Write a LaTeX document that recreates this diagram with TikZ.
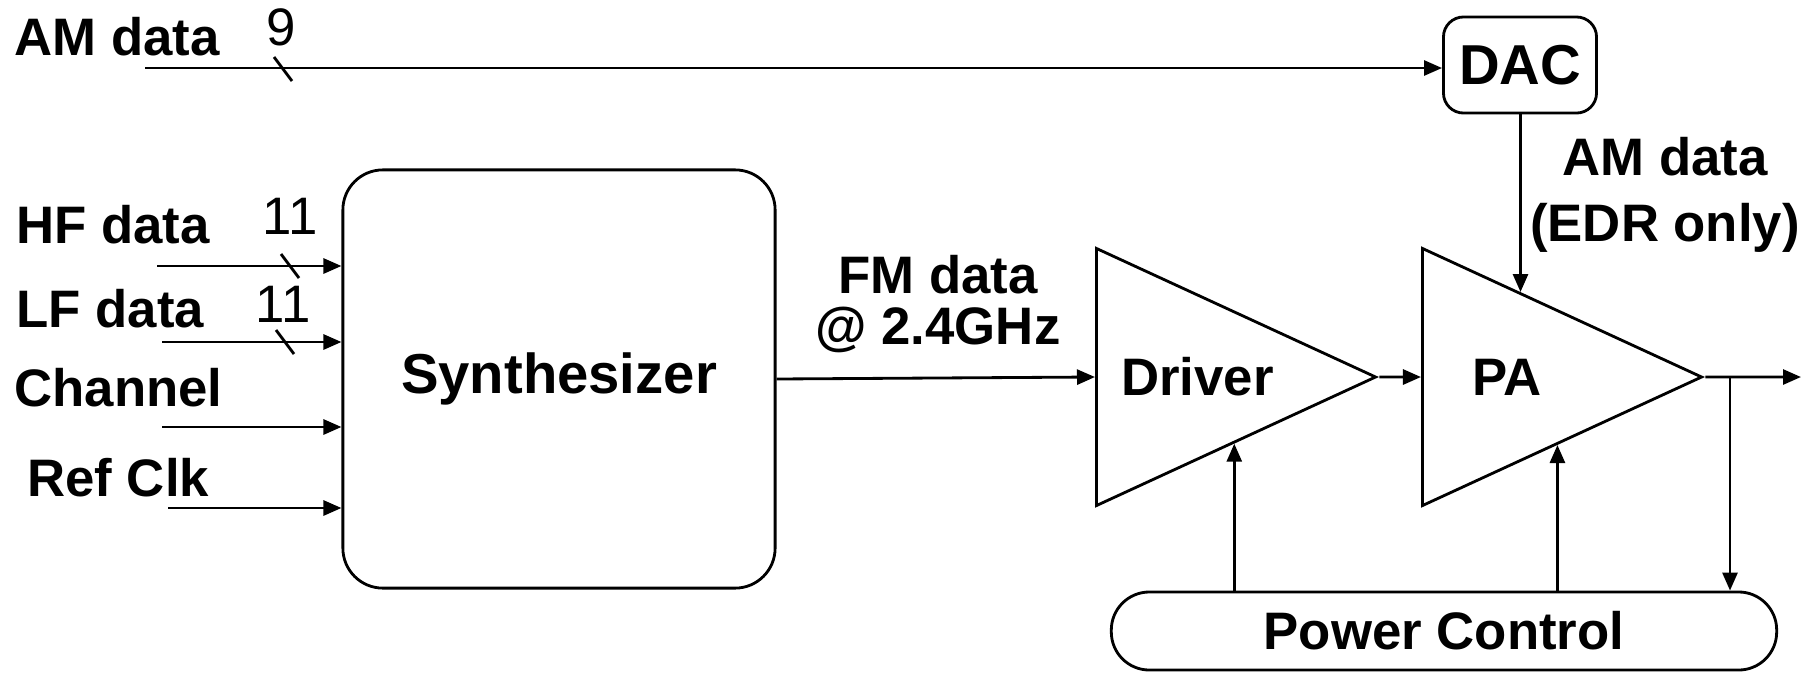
\documentclass[tikz,border=0pt]{standalone}
\usepackage{fontspec}
\setmainfont{Liberation Sans}
\usetikzlibrary{positioning,arrows.meta,calc,shapes.geometric}

\begin{document}
\begin{tikzpicture}[x=0.01cm,y=-0.01cm,>={Triangle[length=1.8mm,width=1.5mm]},line width=0.8pt,
  every node/.style={font=\fontsize{15}{18}\selectfont\bfseries,inner sep=0pt},
  amp/.style={draw,isosceles triangle,isosceles triangle stretches,minimum width=2.57cm,minimum height=2.79cm},
  bits/.style={font=\fontsize{15}{18}\selectfont}]
\useasboundingbox (0,0) rectangle (1820,672);
% blocks
\node[draw,rounded corners=4mm,minimum width=4.32cm,minimum height=4.18cm,font=\fontsize{16}{18}\selectfont\bfseries] (syn) at (559,379) {Synthesizer};
\node[draw,rounded corners=2mm,minimum width=1.53cm,minimum height=0.96cm,font=\fontsize{16}{18}\selectfont\bfseries] (dac) at (1520,65) {DAC};
\node[amp,anchor=west] (drv) at (1095,377) {Driver};
\node[amp,anchor=west] (pa) at (1421,377) {PA};
\node[draw,rounded corners=3.8mm,minimum width=6.65cm,minimum height=0.78cm] (pc) at (1444,631) {Power Control};

% signal names
\node[anchor=base west] (am) at (13,55) {AM data};
\node[anchor=base west] (hf) at (15,243) {HF data};
\node[anchor=base west] (lf) at (15,327) {LF data};
\node[anchor=base west] (ch) at (13,406) {Channel};
\node[anchor=base west] (ref) at (26,496) {Ref Clk};
\node[align=center,font=\fontsize{15}{14.5}\selectfont\bfseries] (fm) at (938,304) {FM data\\@ 2.4GHz};
\node[align=center,font=\fontsize{15}{18.7}\selectfont\bfseries] (amx) at (1665,195) {AM data\\(EDR only)};

% bus widths
\node[bits] (w9) at (281,27) {9};
\node[bits] (whf) at (290,216) {11};
\node[bits] (wlf) at (283,304) {11};
\draw ([shift={(-9,-12)}]283,69) -- ++(18,24);
\draw ([shift={(-9,-12)}]290,266) -- ++(18,24);
\draw ([shift={(-9,-12)}]285,342) -- ++(18,24);

% inputs
\coordinate (amin) at (145,68);
\coordinate (hfin) at (157,266);
\coordinate (lfin) at (162,342);
\coordinate (chin) at (162,427);
\coordinate (refin) at (168,508);
\draw[->] (amin) -- (amin -| dac.west);
\draw[->] (hfin) -- (hfin -| syn.west);
\draw[->] (lfin) -- (lfin -| syn.west);
\draw[->] (chin) -- (chin -| syn.west);
\draw[->] (refin) -- (refin -| syn.west);

% tx chain
\draw[->] (syn.east) -- (drv.west);
\draw[->] (drv.apex) -- (pa.west);
\coordinate (out) at (1801,377);
\draw[->] (pa.apex) -- (out);
\coordinate (br) at (1730,377);
\draw[->] (br) -- (br |- pc.north);
\coordinate (dup) at ($(drv.right corner)!0.49!(drv.apex)$);
\draw[->] (dup |- pc.north) -- (dup);
\coordinate (pup) at ($(pa.right corner)!0.48!(pa.apex)$);
\draw[->] (pup |- pc.north) -- (pup);
\coordinate (pin) at ($(pa.left corner)!0.35!(pa.apex)$);
\draw[->] (pin |- dac.south) -- (pin);
\end{tikzpicture}
\end{document}
